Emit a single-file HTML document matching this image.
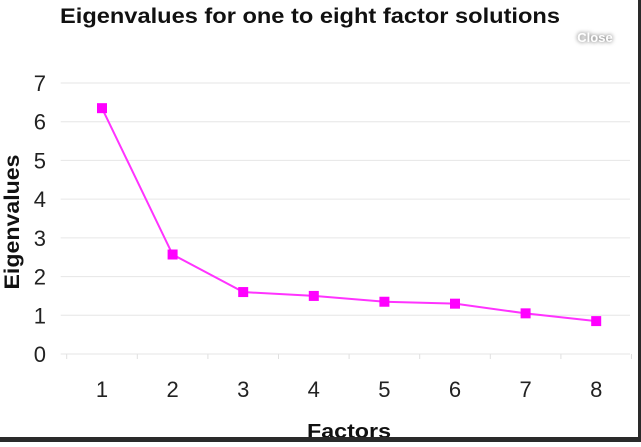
<!DOCTYPE html>
<html><head><meta charset="utf-8"><style>
body{margin:0;width:641px;height:442px;overflow:hidden;background:#fff;font-family:"Liberation Sans",sans-serif}
</style></head><body>
<svg width="641" height="442">
<text x="310" y="23" text-anchor="middle" font-size="21" font-weight="bold" fill="#111" textLength="500" lengthAdjust="spacingAndGlyphs">Eigenvalues for one to eight factor solutions</text>
<text x="595" y="42" text-anchor="middle" font-size="13" font-weight="bold" fill="#fff" style="filter:drop-shadow(0 0 2px #555)">Close</text>
<g id="grid"></g><g id="axes"></g><g id="series"></g>
<text x="349" y="438" text-anchor="middle" font-size="20" font-weight="bold" fill="#111" textLength="84" lengthAdjust="spacingAndGlyphs">Factors</text>
<text transform="translate(19,222) rotate(-90)" text-anchor="middle" font-size="21" font-weight="bold" fill="#111" textLength="135" lengthAdjust="spacingAndGlyphs">Eigenvalues</text>
<rect x="0" y="437" width="641" height="5" fill="#2a2a2a"/>
<rect x="638" y="0" width="3" height="442" fill="#2a2a2a"/>
</svg>
<script>
const categories=["1","2","3","4","5","6","7","8"];
const values=[6.35,2.57,1.6,1.5,1.35,1.3,1.05,0.85];
const yTicks=[0,1,2,3,4,5,6,7];
const NS="http://www.w3.org/2000/svg";
const step=70.6;
const L=102-step/2,R=630,T=83,B=354;
const xs=i=>L+step*(i+0.5);
const ys=v=>B-(B-T)*v/7;
function mk(t,a,p){const e=document.createElementNS(NS,t);for(const k in a)e.setAttribute(k,a[k]);p.appendChild(e);return e;}
const g=document.getElementById('grid'),ax=document.getElementById('axes'),s=document.getElementById('series');
yTicks.forEach(v=>{
 const l=mk('line',{x1:L-6,x2:R,y1:ys(v),y2:ys(v),stroke:'#e6e6e6','stroke-width':1},g);
 
 
 const t=mk('text',{x:46,y:ys(v)+8,'text-anchor':'end','font-size':22,fill:'#222'},ax);
 t.textContent=v;
 
 
});
for(let i=0;i<=categories.length;i++){
 const l=mk('line',{x1:L+step*i,x2:L+step*i,y1:B,y2:B+5,stroke:'#e0e0e0'},ax);
 
 
}
categories.forEach((c,i)=>{
 const t=mk('text',{x:xs(i),y:397,'text-anchor':'middle','font-size':22,fill:'#222'},ax);
 t.textContent=c;
 
 
});
const line=mk('polyline',{points:values.map((v,i)=>xs(i)+','+ys(v)).join(' '),fill:'none',stroke:'#ff33ff','stroke-width':2},s);


values.forEach((v,i)=>{
 const r=mk('rect',{x:xs(i)-5,y:ys(v)-5,width:10,height:10,fill:'#ff00ff'},s);
 
 
});
</script>
</body></html>
